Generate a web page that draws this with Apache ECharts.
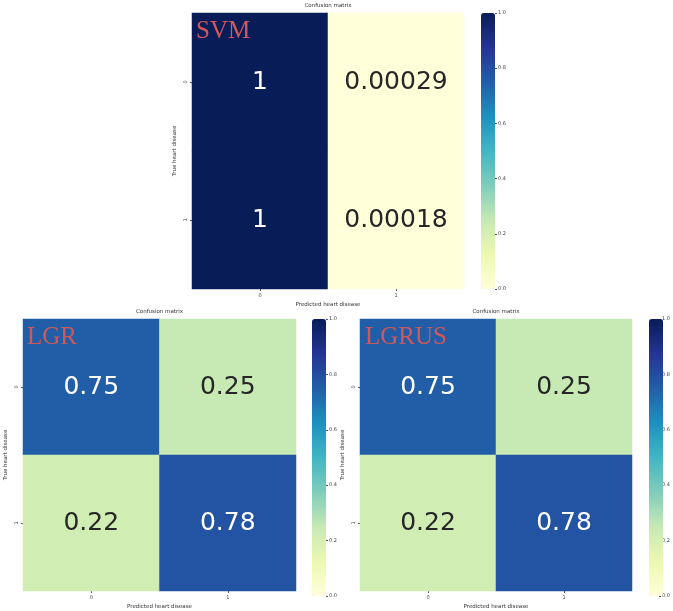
<!DOCTYPE html>
<html>
<head>
<meta charset="utf-8">
<script src="https://cdn.jsdelivr.net/npm/echarts@6/dist/echarts.min.js"></script>
<style>html,body{margin:0;padding:0;background:#fff}#c{width:673px;height:611px}</style>
</head>
<body>
<div id="c"></div>
<script>
// ---- data ----
const predictedCats = ['0', '1'];
const trueCats = ['0', '1'];
const models = ['SVM', 'LGR', 'LGRUS'];
// rows: true 0, true 1 ; columns: predicted 0, predicted 1
const svmValues = [[1, 0.00029], [1, 0.00018]];
const lgrValues = [[0.75, 0.25], [0.22, 0.78]];
const lgrusValues = [[0.75, 0.25], [0.22, 0.78]];
const colorbarTicks = [0.0, 0.2, 0.4, 0.6, 0.8, 1.0];
const allValues = [svmValues, lgrValues, lgrusValues];

const YlGnBu = ['#ffffd9', '#edf8b1', '#c7e9b4', '#7fcdbb', '#41b6c4', '#1d91c0', '#225ea8', '#253494', '#081d58'];

// ---- layout ----
const panels = [
  { grid: { left: 192, top: 13, width: 272, height: 276 }, cbar: { left: 481, top: 13, width: 14, height: 276 }, tag: { x: 196, y: 19 } },
  { grid: { left: 23, top: 319, width: 273, height: 277 }, cbar: { left: 312, top: 319, width: 14, height: 277 }, tag: { x: 27, y: 325 } },
  { grid: { left: 360, top: 319, width: 272, height: 277 }, cbar: { left: 649, top: 319, width: 14, height: 277 }, tag: { x: 365, y: 325 } }
];

const grids = [], xAxes = [], yAxes = [], series = [], visualMaps = [], titles = [];
const tickStyle = { fontSize: 5, color: '#444', fontFamily: 'DejaVu Sans' };

panels.forEach((p, i) => {
  const g = p.grid;
  grids.push({ left: g.left, top: g.top, width: g.width, height: g.height });
  const gi = grids.length - 1;
  xAxes.push({
    type: 'category', data: predictedCats, gridIndex: gi,
    name: 'Predicted heart disease', nameLocation: 'middle', nameGap: 13,
    nameTextStyle: { fontSize: 5.5, color: '#333', fontFamily: 'DejaVu Sans' },
    axisLine: { show: false }, axisTick: { show: true, length: 2, alignWithLabel: true, lineStyle: { color: '#555' } },
    axisLabel: Object.assign({ margin: 4 }, tickStyle), splitLine: { show: false }
  });
  yAxes.push({
    type: 'category', data: trueCats, gridIndex: gi, inverse: true,
    name: 'True heart disease', nameLocation: 'middle', nameGap: 14,
    nameTextStyle: { fontSize: 5.5, color: '#333', fontFamily: 'DejaVu Sans' },
    axisLine: { show: false }, axisTick: { show: true, length: 2, alignWithLabel: true, lineStyle: { color: '#555' } },
    axisLabel: Object.assign({ margin: 4, rotate: 90 }, tickStyle), splitLine: { show: false }
  });
  const vals = allValues[i];
  const data = [];
  vals.forEach((row, r) => row.forEach((v, c) => {
    data.push({ value: [c, r, v], label: { color: v > 0.5 ? '#ffffff' : '#262626' } });
  }));
  series.push({
    type: 'heatmap', xAxisIndex: xAxes.length - 1, yAxisIndex: yAxes.length - 1,
    data: data,
    label: { show: true, fontSize: 25, fontFamily: 'DejaVu Sans', formatter: (d) => String(d.value[2]) },
    itemStyle: { borderWidth: 0 },
    emphasis: { disabled: true }
  });
  visualMaps.push({
    type: 'continuous', min: 0, max: 1, seriesIndex: series.length - 1, dimension: 2,
    left: p.cbar.left, top: p.cbar.top, itemWidth: p.cbar.width, itemHeight: p.cbar.height,
    padding: 0, calculable: false, hoverLink: false, realtime: false,
    inRange: { color: YlGnBu }, orient: 'vertical'
  });
  grids.push({ left: p.cbar.left, top: p.cbar.top, width: p.cbar.width, height: p.cbar.height });
  const ci = grids.length - 1;
  xAxes.push({ type: 'value', gridIndex: ci, show: false, min: 0, max: 1 });
  yAxes.push({
    type: 'value', gridIndex: ci, position: 'right', min: colorbarTicks[0], max: colorbarTicks[colorbarTicks.length - 1], interval: 0.2,
    axisLine: { show: false, onZero: false }, axisTick: { show: true, length: 2, lineStyle: { color: '#555' } },
    splitLine: { show: false },
    axisLabel: Object.assign({ margin: 3, formatter: (v) => v.toFixed(1) }, tickStyle)
  });
  titles.push({
    text: 'Confusion matrix', left: g.left + g.width / 2, top: g.top - 10, textAlign: 'center',
    textStyle: { fontSize: 5.5, fontWeight: 'normal', color: '#333', fontFamily: 'DejaVu Sans' }, padding: 0
  });
  titles.push({
    text: models[i], left: p.tag.x, top: p.tag.y, padding: 0,
    textStyle: { fontSize: 25, fontWeight: 'normal', color: '#d0585a', fontFamily: 'Liberation Serif' }
  });
});

const chart = echarts.init(document.getElementById('c'), null, { renderer: 'canvas' });
chart.setOption({
  animation: false,
  backgroundColor: '#ffffff',
  title: titles,
  grid: grids,
  xAxis: xAxes,
  yAxis: yAxes,
  visualMap: visualMaps,
  series: series
});
</script>
</body>
</html>
